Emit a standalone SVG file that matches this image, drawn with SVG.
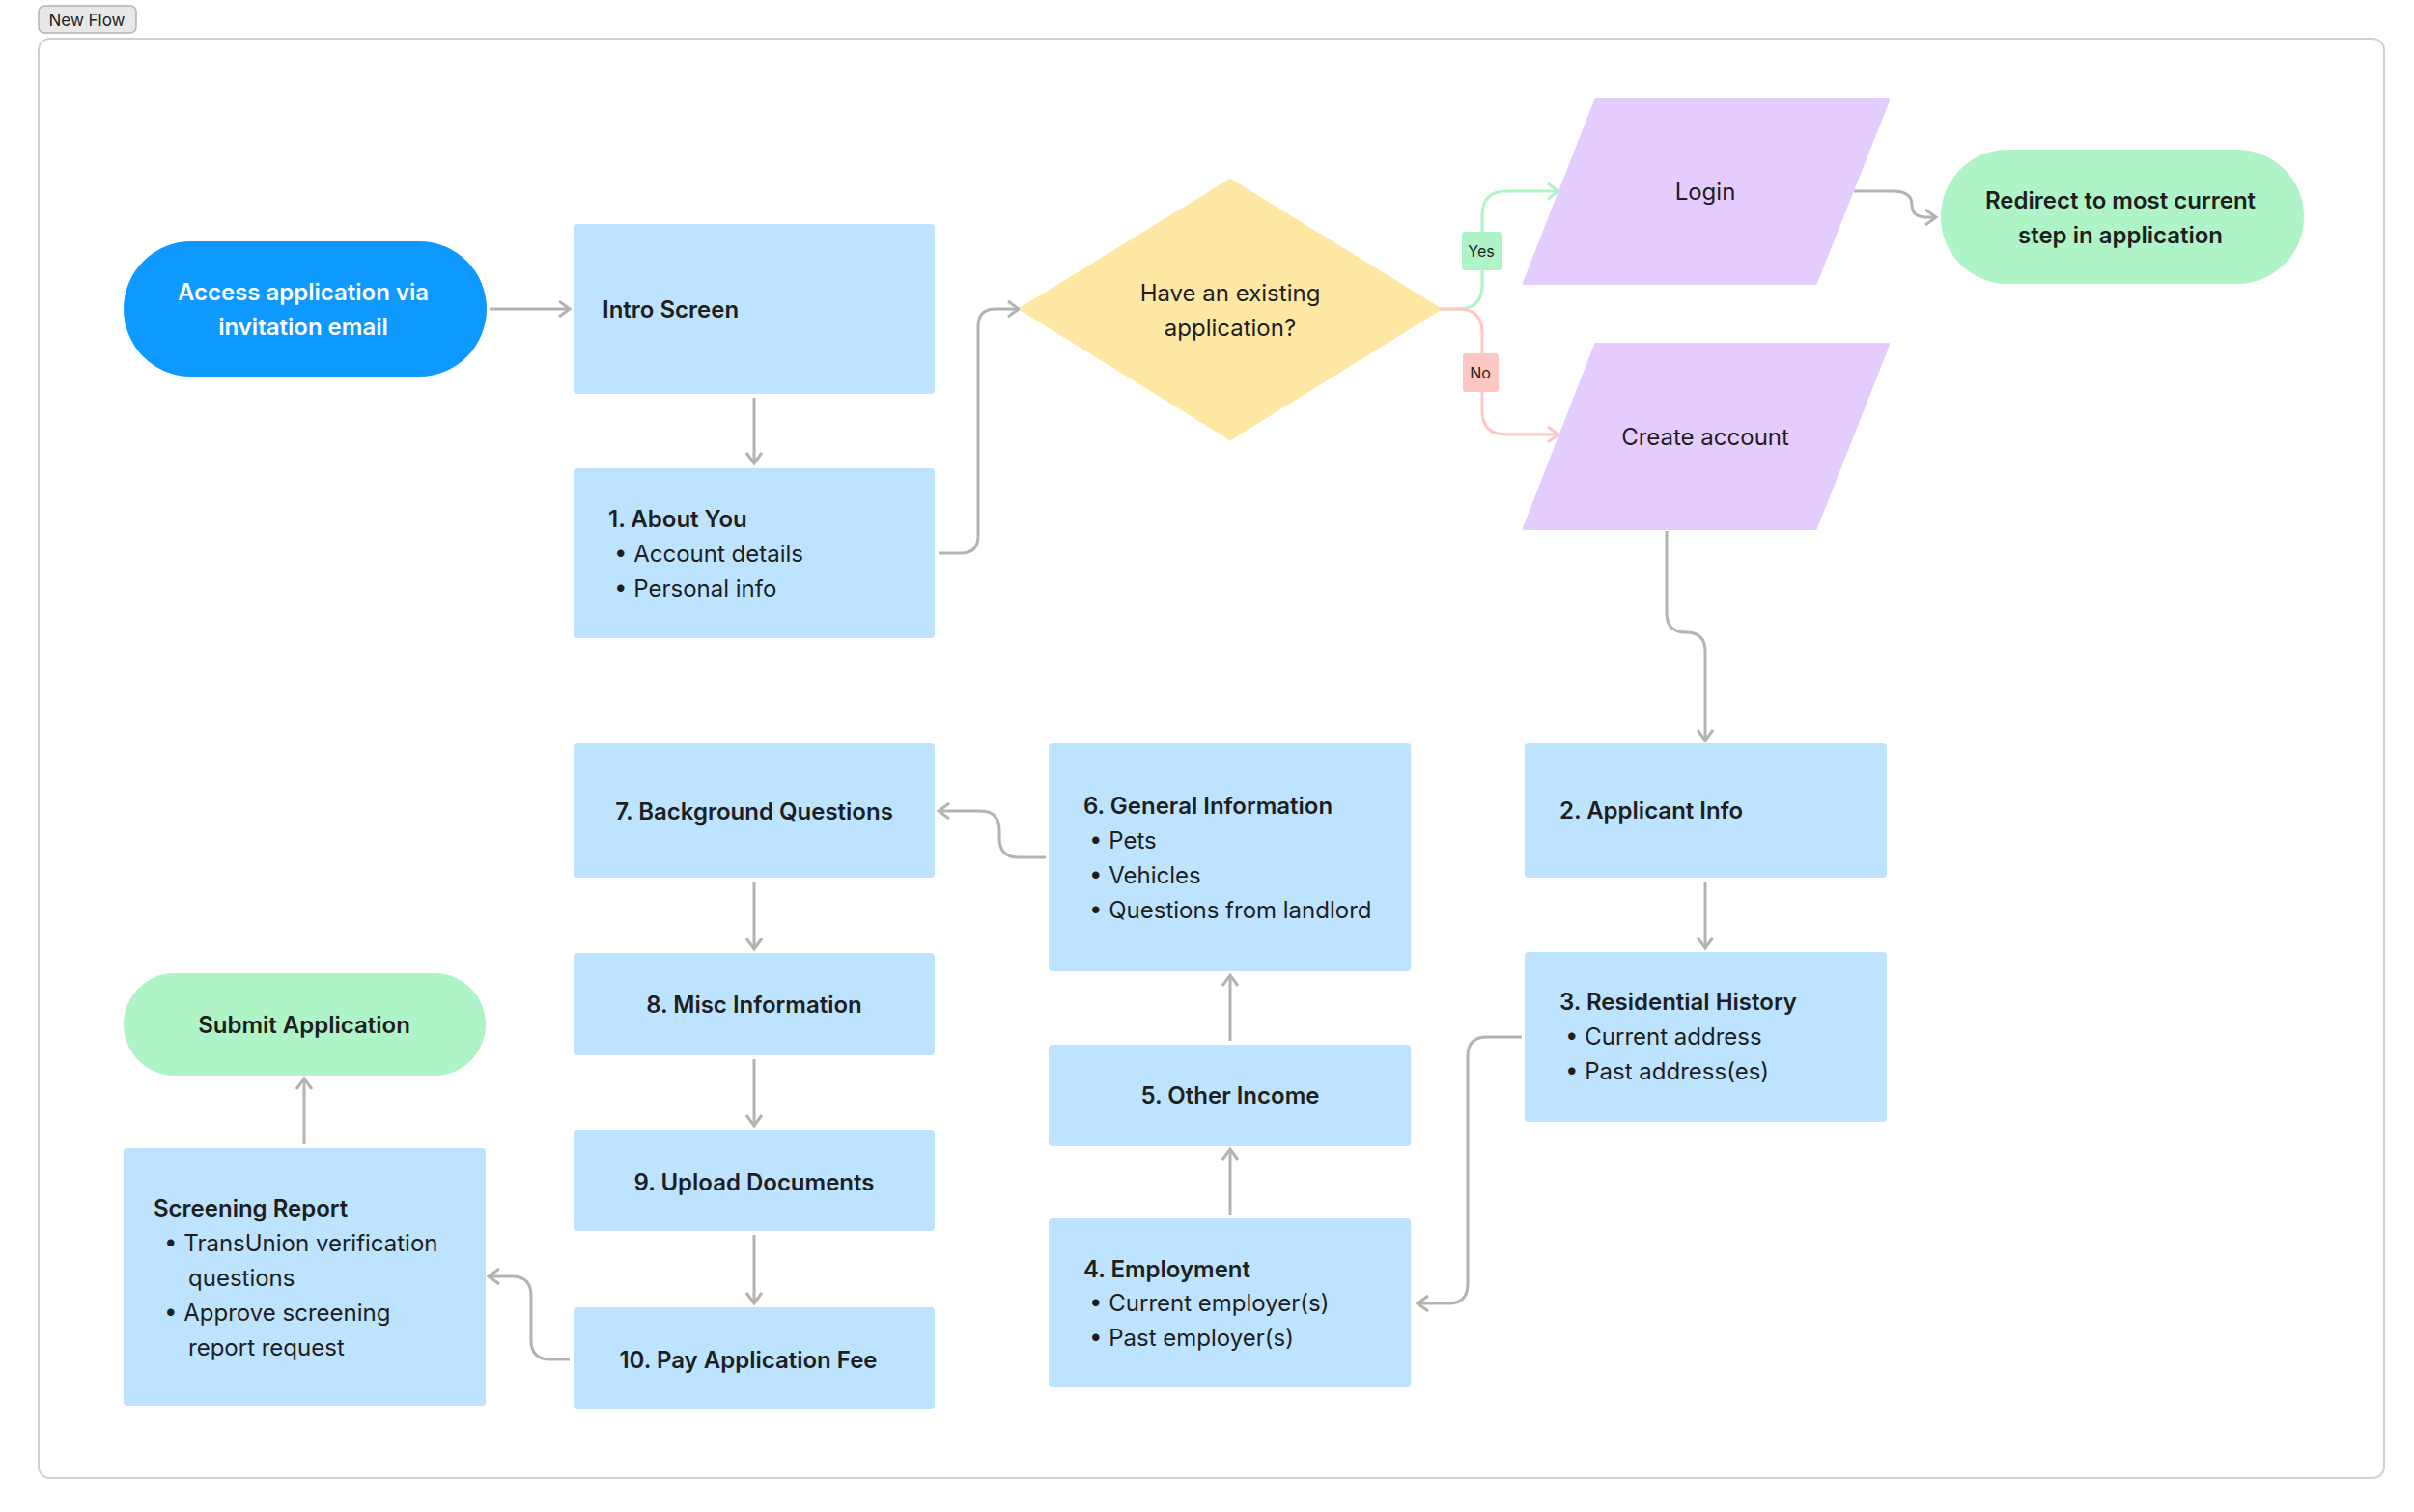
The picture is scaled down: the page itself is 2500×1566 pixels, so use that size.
<svg xmlns="http://www.w3.org/2000/svg" width="2500" height="1566" viewBox="0 0 2500 1566">
<style>
text{font-family:Inter,"Noto Sans","Liberation Sans",sans-serif;font-size:24px;fill:#1E1E1E}
.b{font-weight:600}
.c{text-anchor:middle}
.box{fill:#BDE3FF}
.e{fill:none;stroke:#B3B3B3;stroke-width:3;marker-end:url(#a)}
</style>
<defs>
<marker id="a" viewBox="0 0 20 20" refX="17" refY="10" markerWidth="20" markerHeight="20" markerUnits="userSpaceOnUse" orient="auto"><path d="M6,2 L17,10 L6,18" fill="none" stroke="context-stroke" stroke-width="3"/></marker>
<marker id="ag" viewBox="0 0 20 20" refX="17" refY="10" markerWidth="20" markerHeight="20" markerUnits="userSpaceOnUse" orient="auto"><path d="M6,2 L17,10 L6,18" fill="none" stroke="#AFF4C6" stroke-width="3"/></marker>
<marker id="ap" viewBox="0 0 20 20" refX="17" refY="10" markerWidth="20" markerHeight="20" markerUnits="userSpaceOnUse" orient="auto"><path d="M6,2 L17,10 L6,18" fill="none" stroke="#FFC7C2" stroke-width="3"/></marker>
</defs>
<rect width="2500" height="1566" fill="#fff"/>
<g id="frame">
<rect x="40" y="40" width="2429" height="1491" rx="12" fill="#fff" stroke="#D0D0D0" stroke-width="2"/>
<rect x="40" y="6" width="101" height="28" rx="6" fill="#E8E8E8" stroke="#B3B3B3" stroke-width="1.5"/>
<text x="90" y="27" class="c" style="font-size:17px">New Flow</text>
</g>
<g id="connectors">
<path class="e" d="M507,320 H590"/>
<path class="e" d="M781,412 V480"/>
<path class="e" d="M972,573 H995 Q1013,573 1013,555 V338 Q1013,320 1031,320 H1055"/>
<path d="M1490,320 H1510 Q1535,320 1535,295 V223 Q1535,198 1560,198 H1614" fill="none" stroke="#AFF4C6" stroke-width="3" marker-end="url(#ag)"/>
<path d="M1490,320 H1510 Q1535,320 1535,345 V425 Q1535,450 1560,450 H1614" fill="none" stroke="#FFC7C2" stroke-width="3" marker-end="url(#ap)"/>
<path class="e" d="M1920,198 H1960 Q1980,198 1980,212 Q1980,225 1995,225 H2005"/>
<path class="e" d="M1726,550 V635 Q1726,655 1746,655 Q1766,655 1766,675 V767"/>
<path class="e" d="M1766,913 V982"/>
<path class="e" d="M1576,1074 H1540 Q1520,1074 1520,1094 V1330 Q1520,1350 1500,1350 H1468"/>
<path class="e" d="M1274,1258 V1190"/>
<path class="e" d="M1274,1078 V1010"/>
<path class="e" d="M1083,888 H1055 Q1035,888 1035,868 V860 Q1035,840 1015,840 H972"/>
<path class="e" d="M781,913 V983"/>
<path class="e" d="M781,1097 V1166"/>
<path class="e" d="M781,1279 V1350"/>
<path class="e" d="M590,1408 H570 Q550,1408 550,1388 V1342 Q550,1322 530,1322 H506"/>
<path class="e" d="M315,1185 V1117"/>
</g>
<g id="access"><rect x="128" y="250" width="376" height="140" rx="70" fill="#0D99FF"/>
<text x="314" y="311" class="b c" style="fill:#fff">Access application via</text>
<text x="314" y="347" class="b c" style="fill:#fff">invitation email</text></g>
<g id="intro"><rect class="box" x="594" y="232" width="374" height="176" rx="4"/>
<text x="624" y="329" class="b">Intro Screen</text></g>
<g id="about"><rect class="box" x="594" y="485" width="374" height="176" rx="4"/>
<text x="630" y="546" class="b">1.  About You</text>
<text x="636" y="582">•  Account details</text>
<text x="636" y="618">•  Personal info</text></g>
<g id="decision"><path d="M1274,187 L1490,320 L1274,454 L1058,320 Z" fill="#FFE8A3" stroke="#FFE8A3" stroke-width="4" stroke-linejoin="round"/>
<text x="1274" y="312" class="c">Have an existing</text>
<text x="1274" y="348" class="c">application?</text></g>
<g id="yes"><rect x="1514" y="240" width="41" height="40" rx="3" fill="#AFF4C6"/><text x="1534" y="266" class="c" style="font-size:16px">Yes</text></g>
<g id="no"><rect x="1515" y="366" width="37" height="40" rx="3" fill="#FFC7C2"/><text x="1533" y="392" class="c" style="font-size:16px">No</text></g>
<g id="login"><path d="M1653,104 H1955 L1880,293 H1579 Z" fill="#E4CCFF" stroke="#E4CCFF" stroke-width="4" stroke-linejoin="round"/>
<text x="1766" y="207" class="c">Login</text></g>
<g id="create"><path d="M1653,357 H1955 L1880,547 H1579 Z" fill="#E4CCFF" stroke="#E4CCFF" stroke-width="4" stroke-linejoin="round"/>
<text x="1766" y="461" class="c">Create account</text></g>
<g id="redirect"><rect x="2010" y="155" width="376" height="139" rx="69" fill="#AFF4C6"/>
<text x="2196" y="216" class="b c">Redirect to most current</text>
<text x="2196" y="252" class="b c">step in application</text></g>
<g id="applicant"><rect class="box" x="1579" y="770" width="375" height="139" rx="4"/>
<text x="1615" y="848" class="b">2.  Applicant Info</text></g>
<g id="residential"><rect class="box" x="1579" y="986" width="375" height="176" rx="4"/>
<text x="1615" y="1046" class="b">3.  Residential History</text>
<text x="1621" y="1082">•  Current address</text>
<text x="1621" y="1118">•  Past address(es)</text></g>
<g id="employment"><rect class="box" x="1086" y="1262" width="375" height="175" rx="4"/>
<text x="1122" y="1323" class="b">4.  Employment</text>
<text x="1128" y="1358">•  Current employer(s)</text>
<text x="1128" y="1394">•  Past employer(s)</text></g>
<g id="other"><rect class="box" x="1086" y="1082" width="375" height="105" rx="4"/>
<text x="1274" y="1143" class="b c">5.  Other Income</text></g>
<g id="general"><rect class="box" x="1086" y="770" width="375" height="236" rx="4"/>
<text x="1122" y="843" class="b">6.  General Information</text>
<text x="1128" y="879">•  Pets</text>
<text x="1128" y="915">•  Vehicles</text>
<text x="1128" y="951">•  Questions from landlord</text></g>
<g id="background"><rect class="box" x="594" y="770" width="374" height="139" rx="4"/>
<text x="781" y="849" class="b c">7.  Background Questions</text></g>
<g id="misc"><rect class="box" x="594" y="987" width="374" height="106" rx="4"/>
<text x="781" y="1049" class="b c">8.  Misc Information</text></g>
<g id="upload"><rect class="box" x="594" y="1170" width="374" height="105" rx="4"/>
<text x="781" y="1233" class="b c">9.  Upload Documents</text></g>
<g id="pay"><rect class="box" x="594" y="1354" width="374" height="105" rx="4"/>
<text x="775" y="1417" class="b c">10.  Pay Application Fee</text></g>
<g id="screening"><rect class="box" x="128" y="1189" width="375" height="267" rx="4"/>
<text x="159" y="1260" class="b">Screening Report</text>
<text x="170" y="1296">•  TransUnion verification</text>
<text x="195" y="1332">questions</text>
<text x="170" y="1368">•  Approve screening</text>
<text x="195" y="1404">report request</text></g>
<g id="submit"><rect x="128" y="1008" width="375" height="106" rx="53" fill="#AFF4C6"/>
<text x="315" y="1070" class="b c">Submit Application</text></g>
</svg>
